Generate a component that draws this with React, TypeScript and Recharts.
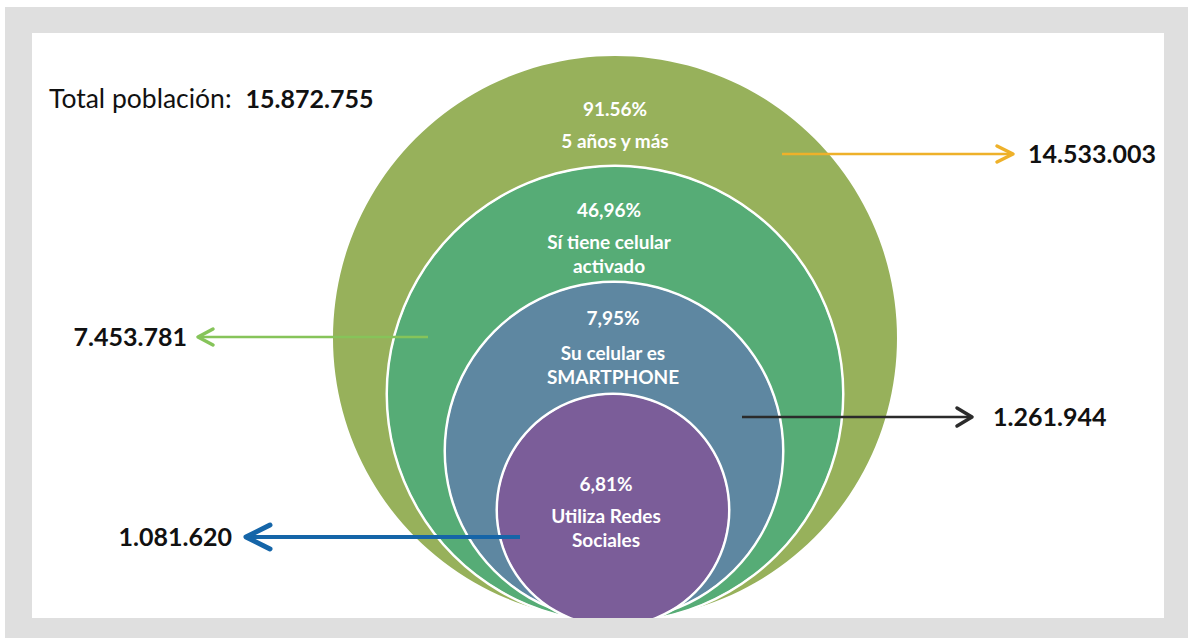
import { PieChart, Pie, Cell } from 'recharts';

const GROUPS = ['5 años y más', 'Sí tiene celular activado', 'Su celular es SMARTPHONE', 'Utiliza Redes Sociales'];
const LABEL_LINES = [['5 años y más'], ['Sí tiene celular', 'activado'], ['Su celular es', 'SMARTPHONE'], ['Utiliza Redes', 'Sociales']];
const PERCENT_LABELS = ['91.56%', '46,96%', '7,95%', '6,81%'];
const SHARES = [91.56, 46.96, 7.95, 6.81];
const PEOPLE = ['14.533.003', '7.453.781', '1.261.944', '1.081.620'];
const TOTAL_LABEL = 'Total población:';
const TOTAL = '15.872.755';

const COLORS = ['#97b15b', '#56ac76', '#5e87a1', '#7b5d99'];
const ARROW_COLORS = ['#eeb12a', '#86c45a', '#2b2b2b', '#1565a8'];

// panel offset inside the page
const OX = 32;
const OY = 33;
const CHART_W = 1132;
const CHART_H = 585;
const FONT = 'Lato, "Open Sans", sans-serif';

// nested circles, page coordinates
const CIRCLES = [
  { cx: 615, cy: 338, r: 282 },
  { cx: 615, cy: 394, r: 227 },
  { cx: 614, cy: 451, r: 168 },
  { cx: 613, cy: 510, r: 115 },
];

// text block inside each circle: x centre, baselines
const TEXT_POS = [
  { x: 615, ys: [116, 148] },
  { x: 609, ys: [217, 249, 273] },
  { x: 613, ys: [325, 360, 384] },
  { x: 606, ys: [491, 523, 547] },
];

// arrows: from -> tip, plus where the value sits
const ARROWS = [
  { x1: 782, x2: 1013, y: 154, w: 2.5, head: 16, spread: 8, tx: 1028, anchor: 'start' },
  { x1: 428, x2: 198, y: 337, w: 2.5, head: 15, spread: 8, tx: 187, anchor: 'end' },
  { x1: 742, x2: 972, y: 417, w: 2.5, head: 15, spread: 9, tx: 993, anchor: 'start' },
  { x1: 520, x2: 246, y: 537, w: 4, head: 24, spread: 12, tx: 232, anchor: 'end' },
];

function Overlay() {
  return (
    <svg
      width={CHART_W}
      height={CHART_H}
      style={{ position: 'absolute', left: 0, top: 0, pointerEvents: 'none' }}
    >
      <g fontFamily={FONT}>
        <text x={49 - OX} y={108 - OY} fontSize={26.5} fill="#111">
          {TOTAL_LABEL}
          <tspan dx={14} fontWeight={700} fontSize={25}>{TOTAL}</tspan>
        </text>
        {LABEL_LINES.map((lines, i) => {
          const p = TEXT_POS[i];
          return (
            <g key={GROUPS[i]} fill="#fff" fontWeight={700} fontSize={19} textAnchor="middle">
              <text x={p.x - OX} y={p.ys[0] - OY}>{PERCENT_LABELS[i]}</text>
              {lines.map((line, j) => (
                <text key={line} x={p.x - OX} y={p.ys[j + 1] - OY}>{line}</text>
              ))}
            </g>
          );
        })}
        {ARROWS.map((a, i) => {
          const dir = a.x2 > a.x1 ? 1 : -1;
          const y = a.y - OY;
          const tip = a.x2 - OX;
          const back = tip - dir * a.head;
          return (
            <g key={PEOPLE[i]}>
              <line x1={a.x1 - OX} y1={y} x2={tip - dir * 1} y2={y} stroke={ARROW_COLORS[i]} strokeWidth={a.w} />
              <polyline
                points={`${back},${y - a.spread} ${tip},${y} ${back},${y + a.spread}`}
                fill="none"
                stroke={ARROW_COLORS[i]}
                strokeWidth={a.w + 1}
                strokeLinecap="round"
                strokeLinejoin="round"
              />
              <text x={a.tx - OX} y={y + 9} fontSize={25} fontWeight={700} fill="#111" textAnchor={a.anchor}>
                {PEOPLE[i]}
              </text>
            </g>
          );
        })}
      </g>
    </svg>
  );
}

export default function App() {
  return (
    <div style={{ position: 'absolute', left: 0, top: 0, width: 1188, height: 638, background: '#fff' }}>
      <div style={{ position: 'absolute', left: 5, top: 7, width: 1183, height: 631, background: '#dfdfdf' }} />
      <div style={{ position: 'absolute', left: OX, top: OY, width: CHART_W, height: CHART_H, background: '#fff', overflow: 'hidden' }}>
        <PieChart width={CHART_W} height={CHART_H} margin={{ top: 0, right: 0, bottom: 0, left: 0 }}>
          {CIRCLES.map((c, i) => [
            i > 0 ? (
              <Pie
                key={`ring-${i}`}
                data={[{ name: `${GROUPS[i]} borde`, value: SHARES[i] }]}
                dataKey="value"
                cx={c.cx - OX}
                cy={c.cy - OY}
                innerRadius={c.r - 0.5}
                outerRadius={c.r + 2.5}
                startAngle={90}
                endAngle={-270}
                stroke="none"
                fill="#fff"
                isAnimationActive={false}
              />
            ) : null,
            <Pie
              key={`disc-${i}`}
              data={[{ name: GROUPS[i], value: SHARES[i] }]}
              dataKey="value"
              nameKey="name"
              cx={c.cx - OX}
              cy={c.cy - OY}
              innerRadius={0}
              outerRadius={c.r}
              startAngle={90}
              endAngle={-270}
              stroke="none"
              isAnimationActive={false}
            >
              <Cell fill={COLORS[i]} />
            </Pie>,
          ])}
        </PieChart>
        <Overlay />
      </div>
    </div>
  );
}
